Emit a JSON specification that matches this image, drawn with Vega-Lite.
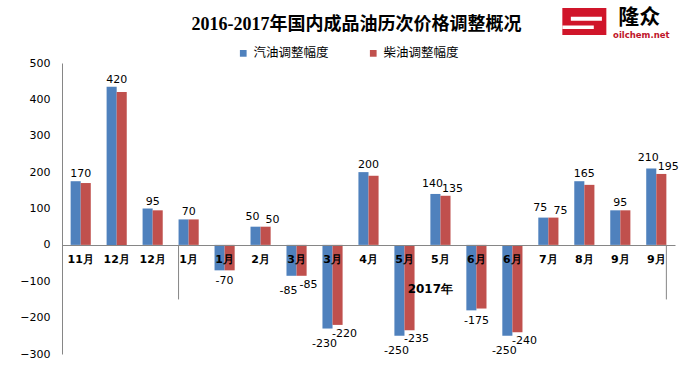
{
  "$schema": "https://vega.github.io/schema/vega-lite/v6.json",
  "width": 613,
  "height": 291,
  "autosize": {"type": "none"},
  "padding": {"left": 62, "top": 63, "right": 21, "bottom": 19},
  "background": "white",
  "title": {
    "text": "2016-2017年国内成品油历次价格调整概况",
    "font": "Liberation Serif, Noto Sans CJK SC",
    "fontSize": 18,
    "fontWeight": "bold",
    "color": "#000000",
    "anchor": "middle",
    "dx": -12,
    "offset": -27
  },
  "datasets": {
    "bars": [
      {"i": 0, "s": "汽油调整幅度", "v": 175}, {"i": 0, "s": "柴油调整幅度", "v": 170},
      {"i": 1, "s": "汽油调整幅度", "v": 435}, {"i": 1, "s": "柴油调整幅度", "v": 420},
      {"i": 2, "s": "汽油调整幅度", "v": 100}, {"i": 2, "s": "柴油调整幅度", "v": 95},
      {"i": 3, "s": "汽油调整幅度", "v": 70}, {"i": 3, "s": "柴油调整幅度", "v": 70},
      {"i": 4, "s": "汽油调整幅度", "v": -70}, {"i": 4, "s": "柴油调整幅度", "v": -70},
      {"i": 5, "s": "汽油调整幅度", "v": 50}, {"i": 5, "s": "柴油调整幅度", "v": 50},
      {"i": 6, "s": "汽油调整幅度", "v": -85}, {"i": 6, "s": "柴油调整幅度", "v": -85},
      {"i": 7, "s": "汽油调整幅度", "v": -230}, {"i": 7, "s": "柴油调整幅度", "v": -220},
      {"i": 8, "s": "汽油调整幅度", "v": 200}, {"i": 8, "s": "柴油调整幅度", "v": 190},
      {"i": 9, "s": "汽油调整幅度", "v": -250}, {"i": 9, "s": "柴油调整幅度", "v": -235},
      {"i": 10, "s": "汽油调整幅度", "v": 140}, {"i": 10, "s": "柴油调整幅度", "v": 135},
      {"i": 11, "s": "汽油调整幅度", "v": -180}, {"i": 11, "s": "柴油调整幅度", "v": -175},
      {"i": 12, "s": "汽油调整幅度", "v": -250}, {"i": 12, "s": "柴油调整幅度", "v": -240},
      {"i": 13, "s": "汽油调整幅度", "v": 75}, {"i": 13, "s": "柴油调整幅度", "v": 75},
      {"i": 14, "s": "汽油调整幅度", "v": 175}, {"i": 14, "s": "柴油调整幅度", "v": 165},
      {"i": 15, "s": "汽油调整幅度", "v": 95}, {"i": 15, "s": "柴油调整幅度", "v": 95},
      {"i": 16, "s": "汽油调整幅度", "v": 210}, {"i": 16, "s": "柴油调整幅度", "v": 195}
    ],
    "cats": [
      {"i": 0, "m": "11月", "v": 0}, {"i": 1, "m": "12月", "v": 0}, {"i": 2, "m": "12月", "v": 0},
      {"i": 3, "m": "1月", "v": 0}, {"i": 4, "m": "1月", "v": 0}, {"i": 5, "m": "2月", "v": 0},
      {"i": 6, "m": "3月", "v": 0}, {"i": 7, "m": "3月", "v": 0}, {"i": 8, "m": "4月", "v": 0},
      {"i": 9, "m": "5月", "v": 0}, {"i": 10, "m": "5月", "v": 0}, {"i": 11, "m": "6月", "v": 0},
      {"i": 12, "m": "6月", "v": 0}, {"i": 13, "m": "7月", "v": 0}, {"i": 14, "m": "8月", "v": 0},
      {"i": 15, "m": "9月", "v": 0}, {"i": 16, "m": "9月", "v": 0}
    ],
    "labC": [
      {"i": 0, "v": 175, "t": "170"},
      {"i": 1, "v": 435, "t": "420"},
      {"i": 2, "v": 100, "t": "95"},
      {"i": 3, "v": 70, "t": "70"},
      {"i": 4, "v": -70, "t": "-70"},
      {"i": 8, "v": 200, "t": "200"},
      {"i": 11, "v": -180, "t": "-175"},
      {"i": 14, "v": 175, "t": "165"},
      {"i": 15, "v": 95, "t": "95"}
    ],
    "labS": [
      {"i": 5, "s": "汽油调整幅度", "v": 50, "t": "50"}, {"i": 5, "s": "柴油调整幅度", "v": 50, "t": "50"},
      {"i": 6, "s": "汽油调整幅度", "v": -85, "t": "-85"}, {"i": 6, "s": "柴油调整幅度", "v": -85, "t": "-85"},
      {"i": 7, "s": "汽油调整幅度", "v": -230, "t": "-230"}, {"i": 7, "s": "柴油调整幅度", "v": -220, "t": "-220"},
      {"i": 9, "s": "汽油调整幅度", "v": -250, "t": "-250"}, {"i": 9, "s": "柴油调整幅度", "v": -235, "t": "-235"},
      {"i": 10, "s": "汽油调整幅度", "v": 140, "t": "140"}, {"i": 10, "s": "柴油调整幅度", "v": 135, "t": "135"},
      {"i": 12, "s": "汽油调整幅度", "v": -250, "t": "-250"}, {"i": 12, "s": "柴油调整幅度", "v": -240, "t": "-240"},
      {"i": 13, "s": "汽油调整幅度", "v": 75, "t": "75"}, {"i": 13, "s": "柴油调整幅度", "v": 75, "t": "75"},
      {"i": 16, "s": "汽油调整幅度", "v": 210, "t": "210"}, {"i": 16, "s": "柴油调整幅度", "v": 195, "t": "195"}
    ]
  },
  "encoding": {
    "x": {
      "field": "i", "type": "ordinal",
      "scale": {"paddingInner": 0.44, "paddingOuter": 0.24},
      "axis": {"title": null, "labels": false, "ticks": false, "domainColor": "#868686", "offset": -109, "zindex": 1}
    },
    "y": {
      "field": "v", "type": "quantitative",
      "scale": {"domain": [-300, 500], "nice": false},
      "axis": {"title": null, "values": [-300, -200, -100, 0, 100, 200, 300, 400, 500], "labelOverlap": false, "grid": false, "ticks": false, "domainColor": "#868686", "labelFont": "DejaVu Sans", "labelFontSize": 11, "labelColor": "#000000", "labelPadding": 12}
    }
  },
  "layer": [
    {
      "data": {"name": "bars"},
      "mark": {"type": "bar"},
      "encoding": {
        "xOffset": {"field": "s", "type": "nominal", "sort": ["汽油调整幅度", "柴油调整幅度"], "scale": {"paddingInner": 0, "paddingOuter": 0}},
        "color": {
          "field": "s", "type": "nominal",
          "scale": {"domain": ["汽油调整幅度", "柴油调整幅度"], "range": ["#4F81BD", "#C0504D"]},
          "legend": {"orient": "none", "legendX": 175, "legendY": -16, "direction": "horizontal", "title": null, "symbolType": "square", "symbolSize": 45, "symbolStrokeWidth": 0, "labelFont": "Noto Sans CJK SC", "labelFontSize": 12.5, "labelColor": "#000000", "columnPadding": 38, "labelOffset": 4}
        }
      }
    },
    {
      "data": {"values": [{"i": 3, "v": 0, "v2": -150}]},
      "mark": {"type": "rule", "color": "#868686", "strokeWidth": 1},
      "encoding": {"x": {"field": "i", "type": "ordinal", "bandPosition": 0}, "y2": {"field": "v2"}}
    },
    {
      "data": {"values": [{"i": 16, "v": 0, "v2": -150}]},
      "mark": {"type": "rule", "color": "#868686", "strokeWidth": 1},
      "encoding": {"x": {"field": "i", "type": "ordinal", "bandPosition": 1}, "y2": {"field": "v2"}}
    },
    {
      "data": {"name": "cats"},
      "mark": {"type": "text", "font": "DejaVu Sans", "fontSize": 11, "fontWeight": "bold", "color": "#000000", "dy": 15, "baseline": "middle"},
      "encoding": {"text": {"field": "m"}}
    },
    {
      "data": {"values": [{"i": 10, "v": -121, "t": "2017年"}]},
      "mark": {"type": "text", "font": "DejaVu Sans", "fontSize": 12, "fontWeight": "bold", "color": "#000000", "baseline": "middle"},
      "encoding": {"x": {"field": "i", "type": "ordinal", "bandPosition": 0}, "text": {"field": "t"}}
    },
    {
      "data": {"name": "labC"},
      "transform": [{"filter": "datum.v >= 0"}],
      "mark": {"type": "text", "font": "DejaVu Sans", "fontSize": 11, "color": "#000000", "baseline": "bottom", "dy": -2},
      "encoding": {"text": {"field": "t"}}
    },
    {
      "data": {"name": "labC"},
      "transform": [{"filter": "datum.v < 0"}],
      "mark": {"type": "text", "font": "DejaVu Sans", "fontSize": 11, "color": "#000000", "baseline": "top", "dy": 5},
      "encoding": {"text": {"field": "t"}}
    },
    {
      "data": {"name": "labS"},
      "transform": [{"filter": "datum.v >= 0 && datum.s == '汽油调整幅度'"}],
      "mark": {"type": "text", "font": "DejaVu Sans", "fontSize": 11, "color": "#000000", "baseline": "bottom", "dy": -5, "dx": -3},
      "encoding": {"xOffset": {"field": "s", "type": "nominal", "sort": ["汽油调整幅度", "柴油调整幅度"]}, "text": {"field": "t"}}
    },
    {
      "data": {"name": "labS"},
      "transform": [{"filter": "datum.v < 0 && datum.s == '汽油调整幅度'"}],
      "mark": {"type": "text", "font": "DejaVu Sans", "fontSize": 11, "color": "#000000", "baseline": "top", "dy": 9, "dx": -3},
      "encoding": {"xOffset": {"field": "s", "type": "nominal", "sort": ["汽油调整幅度", "柴油调整幅度"]}, "text": {"field": "t"}}
    },
    {
      "data": {"name": "labS"},
      "transform": [{"filter": "datum.v >= 0 && datum.s == '柴油调整幅度'"}],
      "mark": {"type": "text", "font": "DejaVu Sans", "fontSize": 11, "color": "#000000", "baseline": "bottom", "dy": -2, "dx": 7},
      "encoding": {"xOffset": {"field": "s", "type": "nominal", "sort": ["汽油调整幅度", "柴油调整幅度"]}, "text": {"field": "t"}}
    },
    {
      "data": {"name": "labS"},
      "transform": [{"filter": "datum.v < 0 && datum.s == '柴油调整幅度'"}],
      "mark": {"type": "text", "font": "DejaVu Sans", "fontSize": 11, "color": "#000000", "baseline": "top", "dy": 3, "dx": 7},
      "encoding": {"xOffset": {"field": "s", "type": "nominal", "sort": ["汽油调整幅度", "柴油调整幅度"]}, "text": {"field": "t"}}
    },
    {
      "data": {"values": [{"i": 14, "v": 614}]},
      "mark": {"type": "point", "filled": true, "shape": "M-1.63,-1H1.63V1H-1.63Z", "size": 729, "color": "#D0152A", "opacity": 1},
      "encoding": {}
    },
    {
      "data": {"values": [{"i": 14, "v": 614}]},
      "mark": {"type": "point", "filled": true, "shape": "M-1.0,-0.35H1.3V-0.05H-1.0Z M-1.63,0.3H0.7V0.55H-1.63Z", "size": 729, "color": "#FFFFFF", "opacity": 1},
      "encoding": {}
    },
    {
      "data": {"values": [{"i": 16, "v": 623, "t": "隆众"}]},
      "mark": {"type": "text", "font": "Noto Sans CJK SC", "fontSize": 21, "fontWeight": "bold", "color": "#000000", "baseline": "middle", "dx": -17},
      "encoding": {"text": {"field": "t"}}
    },
    {
      "data": {"values": [{"i": 16, "v": 577, "t": "oilchem.net"}]},
      "mark": {"type": "text", "font": "DejaVu Sans", "fontSize": 8.5, "fontWeight": "bold", "color": "#C0142A", "baseline": "middle", "dx": -15},
      "encoding": {"text": {"field": "t"}}
    }
  ],
  "config": {"view": {"stroke": null}}
}
